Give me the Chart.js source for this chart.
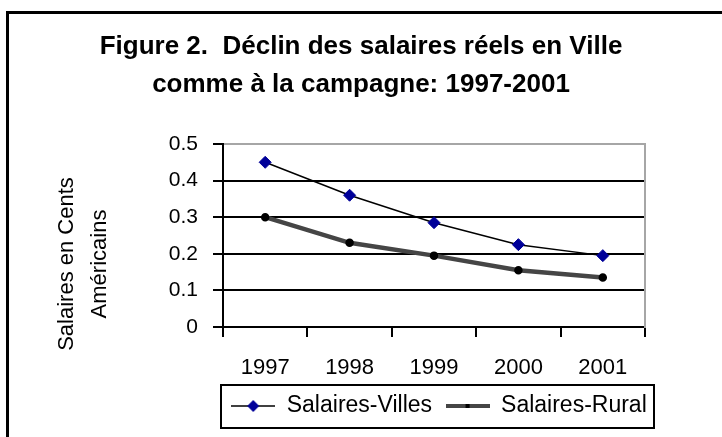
<!DOCTYPE html>
<html lang="fr">
<head>
    <meta charset="UTF-8">
    <title>Figure 2</title>
    <script src="https://cdn.jsdelivr.net/npm/chart.js"></script>
    <style>
        html, body { margin: 0; padding: 0; background: #fff; overflow: hidden; }
        #frame { position: absolute; left: 6px; top: 11px; width: 900px; height: 600px; border: 3px solid #000; }
        #chart-container { position: absolute; left: 0; top: 0; width: 722px; height: 437px; }
    </style>
</head>
<body>
    <div id="frame"></div>
    <div id="chart-container">
        <canvas id="myChart"></canvas>
    </div>

    <script>
        var categories = ['1997', '1998', '1999', '2000', '2001'];
        var villes = [0.45, 0.36, 0.285, 0.225, 0.195];
        var rural = [0.30, 0.23, 0.195, 0.155, 0.135];
        var yTicks = [0, 0.1, 0.2, 0.3, 0.4, 0.5];
        var seriesNames = ['Salaires-Villes', 'Salaires-Rural'];
        var titleLines = ['Figure 2.  Déclin des salaires réels en Ville', 'comme à la campagne: 1997-2001'];
        var yTitleLines = ['Salaires en Cents', 'Américains'];

        var fontFamily = '"Liberation Sans", Arial, sans-serif';
        Chart.defaults.font.family = fontFamily;
        Chart.defaults.color = '#000';

        function makeSymbol(w, h, draw) {
            var c = document.createElement('canvas');
            c.width = w;
            c.height = h;
            draw(c.getContext('2d'));
            return c;
        }
        var villesSymbol = makeSymbol(44, 14, function (g) {
            g.strokeStyle = '#000';
            g.lineWidth = 1.5;
            g.beginPath(); g.moveTo(0, 7); g.lineTo(44, 7); g.stroke();
            g.fillStyle = '#000099';
            g.beginPath(); g.moveTo(22, 1); g.lineTo(28, 7); g.lineTo(22, 13); g.lineTo(16, 7); g.closePath(); g.fill();
        });
        var ruralSymbol = makeSymbol(44, 8, function (g) {
            g.fillStyle = '#454545';
            g.fillRect(0, 2, 44, 4);
            g.fillStyle = '#000';
            g.fillRect(20, 2, 4, 4);
        });
        var legendSymbols = [villesSymbol, ruralSymbol];

        // excel puts the legend under the plot area, with a box round it
        var legendBox = {
            id: 'legendBox',
            afterLayout: function (chart) {
                var lg = chart.legend, ca = chart.chartArea;
                var shift = (ca.left + ca.right) / 2 - (lg.left + lg.right) / 2 + 5;
                lg.left += shift;
                lg.right += shift;
            },
            afterDraw: function (chart) {
                var boxes = chart.legend.legendHitBoxes;
                if (!boxes || !boxes.length) return;
                var x1 = Math.min.apply(null, boxes.map(function (b) { return b.left; })) - 10;
                var x2 = Math.max.apply(null, boxes.map(function (b) { return b.left + b.width; })) + 7;
                var y1 = boxes[0].top - 10;
                var y2 = boxes[0].top + boxes[0].height + 10;
                var ctx = chart.ctx;
                ctx.save();
                ctx.strokeStyle = '#000';
                ctx.lineWidth = 2;
                ctx.strokeRect(Math.round(x1), Math.round(y1), Math.round(x2 - x1), Math.round(y2 - y1));
                ctx.restore();
            }
        };

        // axis title, a bit lower than the middle of the axis like in the original
        var yTitle = {
            id: 'yTitle',
            afterDraw: function (chart) {
                var ctx = chart.ctx, sc = chart.scales.y;
                ctx.save();
                ctx.font = '22px ' + fontFamily;
                ctx.fillStyle = '#000';
                ctx.textAlign = 'center';
                ctx.textBaseline = 'middle';
                yTitleLines.forEach(function (t, i) {
                    ctx.save();
                    ctx.translate(sc.left + 67 + i * 33, 264);
                    ctx.rotate(-Math.PI / 2);
                    ctx.fillText(t, 0, 0);
                    ctx.restore();
                });
                ctx.restore();
            }
        };

        var ctx = document.getElementById('myChart').getContext('2d');

        var myChart = new Chart(ctx, {
            type: 'line',
            data: {
                labels: categories,
                datasets: [{
                    label: seriesNames[0],
                    data: villes,
                    borderColor: '#000',
                    borderWidth: 1.5,
                    pointStyle: 'rectRot',
                    pointRadius: 6,
                    pointBackgroundColor: '#000099',
                    pointBorderColor: '#000099',
                    pointBorderWidth: 1,
                    tension: 0
                }, {
                    label: seriesNames[1],
                    data: rural,
                    borderColor: '#454545',
                    borderWidth: 4.5,
                    pointRadius: 2,
                    pointBackgroundColor: '#000',
                    pointBorderColor: '#000',
                    tension: 0
                }]
            },
            options: {
                responsive: true,
                maintainAspectRatio: false,
                animation: false,
                devicePixelRatio: 1,
                layout: { padding: { left: 0, right: 0, top: 0, bottom: 9.5 } },
                plugins: {
                    title: {
                        display: true,
                        text: titleLines,
                        font: { size: 26, weight: 'bold', lineHeight: 38 / 26 },
                        padding: { top: 28, bottom: 40 },
                        color: '#000'
                    },
                    legend: {
                        position: 'bottom',
                        labels: {
                            usePointStyle: true,
                            pointStyleWidth: 44,
                            font: { size: 23 },
                            color: '#000',
                            padding: 13.5,
                            generateLabels: function (chart) {
                                var items = Chart.defaults.plugins.legend.labels.generateLabels(chart);
                                return items.map(function (it, i) {
                                    it.pointStyle = legendSymbols[i];
                                    return it;
                                });
                            }
                        }
                    },
                    tooltip: { enabled: false }
                },
                scales: {
                    x: {
                        offset: true,
                        afterFit: function (s) { s.height = 54; },
                        ticks: { font: { size: 22 }, color: '#000', padding: 18 },
                        grid: {
                            offset: true,
                            color: 'rgba(0,0,0,0)',
                            tickColor: '#000',
                            lineWidth: 2,
                            tickLength: 10
                        },
                        border: { color: '#000', width: 2 }
                    },
                    y: {
                        min: 0,
                        max: 0.5,
                        afterBuildTicks: function (s) {
                            s.ticks = yTicks.map(function (v) { return { value: v }; });
                        },
                        afterFit: function (s) { s.width = 223; },
                        ticks: { font: { size: 21 }, color: '#000', padding: 15 },
                        grid: {
                            color: function (c) {
                                return c.tick && c.tick.value === 0.5 ? '#a6a6a6' : '#000';
                            },
                            tickColor: '#000',
                            lineWidth: 2,
                            tickLength: 10
                        },
                        border: { color: '#000', width: 2 }
                    },
                    y2: {
                        position: 'right',
                        display: true,
                        ticks: { display: false },
                        grid: { display: false },
                        border: { color: '#a6a6a6', width: 2 },
                        afterFit: function (s) { s.width = 77; }
                    }
                }
            },
            plugins: [legendBox, yTitle]
        });
    </script>
</body>
</html>
